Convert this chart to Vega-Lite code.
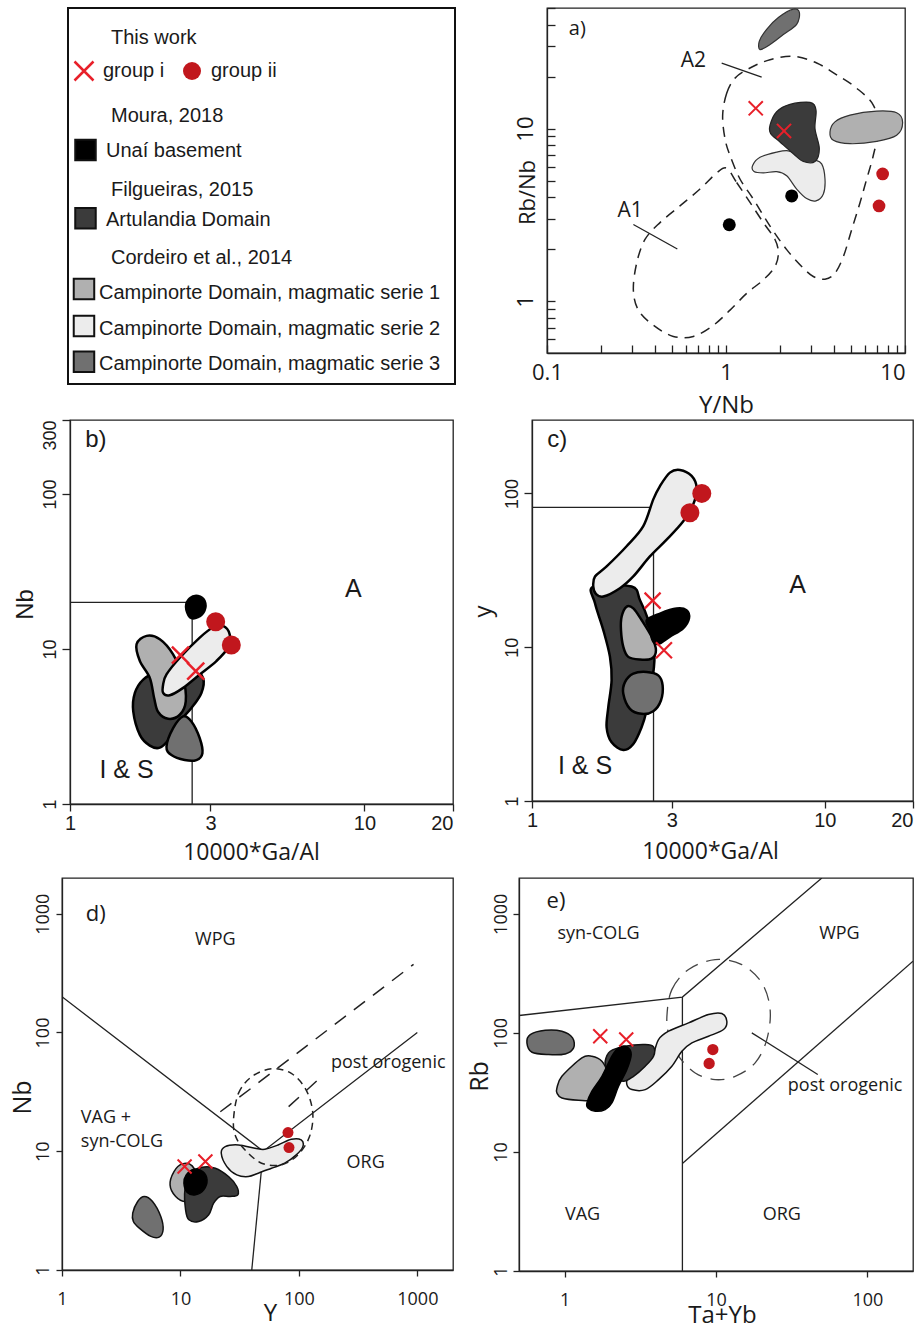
{
 "$schema": "https://vega.github.io/schema/vega-lite/v6.json",
 "background": "white",
 "padding": {"top": 6, "left": 0, "right": 0, "bottom": 0},
 "spacing": 0,
 "config": {
  "view": {"stroke": "#222222", "strokeWidth": 1.3},
  "axis": {"grid": false, "domainColor": "#222222", "domainWidth": 1.3, "tickColor": "#222222", "tickWidth": 1.3, "labelColor": "#1a1a1a", "titleColor": "#1a1a1a", "titleFontWeight": "normal", "labelOverlap": false, "labelFlush": false}
 },
 "datasets": {
  "sh": [
   {"p":"a","k":"s3","i":0,"x":1.549,"y":28.7},{"p":"a","k":"s3","i":1,"x":1.535,"y":32.1},{"p":"a","k":"s3","i":2,"x":1.687,"y":37.6},{"p":"a","k":"s3","i":3,"x":1.961,"y":44.0},{"p":"a","k":"s3","i":4,"x":2.378,"y":49.2},{"p":"a","k":"s3","i":5,"x":2.569,"y":47.1},{"p":"a","k":"s3","i":6,"x":2.482,"y":40.2},{"p":"a","k":"s3","i":7,"x":2.090,"y":35.1},{"p":"a","k":"s3","i":8,"x":1.762,"y":30.7},
   {"p":"a","k":"ar","i":0,"x":1.762,"y":10.46},{"p":"a","k":"ar","i":1,"x":1.919,"y":12.52},{"p":"a","k":"ar","i":2,"x":2.278,"y":13.82},{"p":"a","k":"ar","i":3,"x":2.946,"y":14.19},{"p":"a","k":"ar","i":4,"x":3.183,"y":12.80},{"p":"a","k":"ar","i":5,"x":3.142,"y":10.0},{"p":"a","k":"ar","i":6,"x":3.322,"y":7.64},{"p":"a","k":"ar","i":7,"x":3.142,"y":6.44},{"p":"a","k":"ar","i":8,"x":2.704,"y":6.44},{"p":"a","k":"ar","i":9,"x":2.378,"y":7.14},{"p":"a","k":"ar","i":10,"x":2.003,"y":8.36},{"p":"a","k":"ar","i":11,"x":1.777,"y":9.35},
   {"p":"a","k":"s1","i":0,"x":3.81,"y":9.56},{"p":"a","k":"s1","i":1,"x":4.06,"y":10.94},{"p":"a","k":"s1","i":2,"x":4.93,"y":11.97},{"p":"a","k":"s1","i":3,"x":6.95,"y":12.63},{"p":"a","k":"s1","i":4,"x":8.98,"y":12.35},{"p":"a","k":"s1","i":5,"x":9.70,"y":10.84},{"p":"a","k":"s1","i":6,"x":8.98,"y":9.14},{"p":"a","k":"s1","i":7,"x":6.95,"y":8.43},{"p":"a","k":"s1","i":8,"x":4.93,"y":8.17},{"p":"a","k":"s1","i":9,"x":3.98,"y":8.55},
   {"p":"a","k":"s2","i":0,"x":1.409,"y":6.11},{"p":"a","k":"s2","i":1,"x":1.549,"y":6.82},{"p":"a","k":"s2","i":2,"x":1.919,"y":7.30},{"p":"a","k":"s2","i":3,"x":2.229,"y":7.43},{"p":"a","k":"s2","i":4,"x":2.588,"y":6.98},{"p":"a","k":"s2","i":5,"x":3.074,"y":6.62},{"p":"a","k":"s2","i":6,"x":3.423,"y":6.24},{"p":"a","k":"s2","i":7,"x":3.573,"y":5.10},{"p":"a","k":"s2","i":8,"x":3.499,"y":4.17},{"p":"a","k":"s2","i":9,"x":3.183,"y":3.81},{"p":"a","k":"s2","i":10,"x":2.823,"y":3.93},{"p":"a","k":"s2","i":11,"x":2.482,"y":4.46},{"p":"a","k":"s2","i":12,"x":2.183,"y":5.33},{"p":"a","k":"s2","i":13,"x":1.919,"y":5.63},{"p":"a","k":"s2","i":14,"x":1.617,"y":5.53},{"p":"a","k":"s2","i":15,"x":1.434,"y":5.63},
   {"p":"a","k":"A2","i":0,"x":0.958,"y":11.97},{"p":"a","k":"A2","i":1,"x":1.009,"y":16.02},{"p":"a","k":"A2","i":2,"x":1.123,"y":19.61},{"p":"a","k":"A2","i":3,"x":1.362,"y":22.44},{"p":"a","k":"A2","i":4,"x":1.762,"y":25.09},{"p":"a","k":"A2","i":5,"x":2.378,"y":26.24},{"p":"a","k":"A2","i":6,"x":3.211,"y":23.99},{"p":"a","k":"A2","i":7,"x":4.152,"y":20.5},{"p":"a","k":"A2","i":8,"x":5.37,"y":17.14},{"p":"a","k":"A2","i":9,"x":6.65,"y":13.68},{"p":"a","k":"A2","i":10,"x":7.10,"y":10.0},{"p":"a","k":"A2","i":11,"x":6.65,"y":6.98},{"p":"a","k":"A2","i":12,"x":6.11,"y":5.10},{"p":"a","k":"A2","i":13,"x":5.61,"y":3.73},{"p":"a","k":"A2","i":14,"x":5.04,"y":2.60},{"p":"a","k":"A2","i":15,"x":4.53,"y":1.816},{"p":"a","k":"A2","i":16,"x":4.06,"y":1.451},{"p":"a","k":"A2","i":17,"x":3.573,"y":1.339},{"p":"a","k":"A2","i":18,"x":3.074,"y":1.388},{"p":"a","k":"A2","i":19,"x":2.647,"y":1.588},{"p":"a","k":"A2","i":20,"x":2.183,"y":1.987},{"p":"a","k":"A2","i":21,"x":1.762,"y":2.72},{"p":"a","k":"A2","i":22,"x":1.421,"y":3.90},{"p":"a","k":"A2","i":23,"x":1.197,"y":5.10},{"p":"a","k":"A2","i":24,"x":1.053,"y":6.98},{"p":"a","k":"A2","i":25,"x":0.987,"y":8.74},
   {"p":"a","k":"A1","i":0,"x":1.009,"y":5.89},{"p":"a","k":"A1","i":1,"x":1.147,"y":4.87},{"p":"a","k":"A1","i":2,"x":1.362,"y":3.73},{"p":"a","k":"A1","i":3,"x":1.617,"y":2.85},{"p":"a","k":"A1","i":4,"x":1.878,"y":2.275},{"p":"a","k":"A1","i":5,"x":1.961,"y":1.900},{"p":"a","k":"A1","i":6,"x":1.878,"y":1.588},{"p":"a","k":"A1","i":7,"x":1.617,"y":1.327},{"p":"a","k":"A1","i":8,"x":1.305,"y":1.109},{"p":"a","k":"A1","i":9,"x":1.053,"y":0.886},{"p":"a","k":"A1","i":10,"x":0.850,"y":0.724},{"p":"a","k":"A1","i":11,"x":0.657,"y":0.624},{"p":"a","k":"A1","i":12,"x":0.508,"y":0.624},{"p":"a","k":"A1","i":13,"x":0.393,"y":0.724},{"p":"a","k":"A1","i":14,"x":0.324,"y":0.886},{"p":"a","k":"A1","i":15,"x":0.3037,"y":1.160},{"p":"a","k":"A1","i":16,"x":0.317,"y":1.661},{"p":"a","k":"A1","i":17,"x":0.3527,"y":2.275},{"p":"a","k":"A1","i":18,"x":0.4279,"y":2.85},{"p":"a","k":"A1","i":19,"x":0.553,"y":3.56},{"p":"a","k":"A1","i":20,"x":0.716,"y":4.46},{"p":"a","k":"A1","i":21,"x":0.887,"y":5.53},

   {"p":"b","k":"ar","i":0,"x":1.640,"y":3.958},{"p":"b","k":"ar","i":1,"x":1.661,"y":5.204},{"p":"b","k":"ar","i":2,"x":1.773,"y":6.35},{"p":"b","k":"ar","i":3,"x":1.967,"y":7.02},{"p":"b","k":"ar","i":4,"x":2.299,"y":7.20},{"p":"b","k":"ar","i":5,"x":2.619,"y":7.38},{"p":"b","k":"ar","i":6,"x":2.831,"y":6.51},{"p":"b","k":"ar","i":7,"x":2.795,"y":5.204},{"p":"b","k":"ar","i":8,"x":2.585,"y":4.16},{"p":"b","k":"ar","i":9,"x":2.360,"y":3.408},{"p":"b","k":"ar","i":10,"x":2.183,"y":2.656},{"p":"b","k":"ar","i":11,"x":2.019,"y":2.310},{"p":"b","k":"ar","i":12,"x":1.867,"y":2.380},{"p":"b","k":"ar","i":13,"x":1.727,"y":2.792},
   {"p":"b","k":"s3","i":0,"x":2.127,"y":2.344},{"p":"b","k":"s3","i":1,"x":2.240,"y":3.084},{"p":"b","k":"s3","i":2,"x":2.423,"y":3.672},{"p":"b","k":"s3","i":3,"x":2.585,"y":3.408},{"p":"b","k":"s3","i":4,"x":2.759,"y":2.656},{"p":"b","k":"s3","i":5,"x":2.817,"y":2.123},{"p":"b","k":"s3","i":6,"x":2.688,"y":1.921},{"p":"b","k":"s3","i":7,"x":2.454,"y":1.921},{"p":"b","k":"s3","i":8,"x":2.211,"y":2.070},
   {"p":"b","k":"s1","i":0,"x":1.683,"y":10.72},{"p":"b","k":"s1","i":1,"x":1.820,"y":12.15},{"p":"b","k":"s1","i":2,"x":2.019,"y":11.56},{"p":"b","k":"s1","i":3,"x":2.240,"y":9.23},{"p":"b","k":"s1","i":4,"x":2.423,"y":6.51},{"p":"b","k":"s1","i":5,"x":2.473,"y":4.597},{"p":"b","k":"s1","i":6,"x":2.360,"y":3.765},{"p":"b","k":"s1","i":7,"x":2.154,"y":3.547},{"p":"b","k":"s1","i":8,"x":1.993,"y":3.918},{"p":"b","k":"s1","i":9,"x":1.931,"y":4.83},{"p":"b","k":"s1","i":10,"x":1.867,"y":6.51},{"p":"b","k":"s1","i":11,"x":1.727,"y":8.36},
   {"p":"b","k":"s2","i":0,"x":2.072,"y":5.896},{"p":"b","k":"s2","i":1,"x":2.127,"y":6.85},{"p":"b","k":"s2","i":2,"x":2.360,"y":8.78},{"p":"b","k":"s2","i":3,"x":2.759,"y":11.85},{"p":"b","k":"s2","i":4,"x":3.061,"y":13.76},{"p":"b","k":"s2","i":5,"x":3.310,"y":14.11},{"p":"b","k":"s2","i":6,"x":3.486,"y":12.45},{"p":"b","k":"s2","i":7,"x":3.441,"y":10.20},{"p":"b","k":"s2","i":8,"x":3.142,"y":8.36},{"p":"b","k":"s2","i":9,"x":2.759,"y":6.85},{"p":"b","k":"s2","i":10,"x":2.423,"y":5.61},{"p":"b","k":"s2","i":11,"x":2.183,"y":5.027},{"p":"b","k":"s2","i":12,"x":2.072,"y":5.204},
   {"p":"b","k":"ub","i":0,"x":2.473,"y":18.74},{"p":"b","k":"ub","i":1,"x":2.552,"y":21.33},{"p":"b","k":"ub","i":2,"x":2.723,"y":22.09},{"p":"b","k":"ub","i":3,"x":2.869,"y":20.5},{"p":"b","k":"ub","i":4,"x":2.869,"y":17.65},{"p":"b","k":"ub","i":5,"x":2.723,"y":15.98},{"p":"b","k":"ub","i":6,"x":2.552,"y":15.98},

   {"p":"c","k":"ar","i":0,"x":1.619,"y":24.8},{"p":"c","k":"ar","i":1,"x":1.641,"y":19.29},{"p":"c","k":"ar","i":2,"x":1.752,"y":12.92},{"p":"c","k":"ar","i":3,"x":1.846,"y":8.65},{"p":"c","k":"ar","i":4,"x":1.870,"y":6.085},{"p":"c","k":"ar","i":5,"x":1.822,"y":4.074},{"p":"c","k":"ar","i":6,"x":1.798,"y":3.015},{"p":"c","k":"ar","i":7,"x":1.870,"y":2.406},{"p":"c","k":"ar","i":8,"x":2.050,"y":2.144},{"p":"c","k":"ar","i":9,"x":2.218,"y":2.346},{"p":"c","k":"ar","i":10,"x":2.367,"y":3.015},{"p":"c","k":"ar","i":11,"x":2.462,"y":3.874},{"p":"c","k":"ar","i":12,"x":2.527,"y":5.236},{"p":"c","k":"ar","i":13,"x":2.609,"y":7.44},{"p":"c","k":"ar","i":14,"x":2.609,"y":10.56},{"p":"c","k":"ar","i":15,"x":2.495,"y":15.02},{"p":"c","k":"ar","i":16,"x":2.336,"y":20.28},{"p":"c","k":"ar","i":17,"x":2.189,"y":24.8},
   {"p":"c","k":"s2","i":0,"x":1.619,"y":24.8},{"p":"c","k":"s2","i":1,"x":1.641,"y":28.83},{"p":"c","k":"s2","i":2,"x":1.798,"y":33.5},{"p":"c","k":"s2","i":3,"x":2.104,"y":45.3},{"p":"c","k":"s2","i":4,"x":2.399,"y":61.2},{"p":"c","k":"s2","i":5,"x":2.595,"y":91.4},{"p":"c","k":"s2","i":6,"x":2.735,"y":111.6},{"p":"c","k":"s2","i":7,"x":2.958,"y":136.5},{"p":"c","k":"s2","i":8,"x":3.20,"y":142.1},{"p":"c","k":"s2","i":9,"x":3.508,"y":129.8},{"p":"c","k":"s2","i":10,"x":3.648,"y":108.9},{"p":"c","k":"s2","i":11,"x":3.553,"y":84.8},{"p":"c","k":"s2","i":12,"x":3.285,"y":65.9},{"p":"c","k":"s2","i":13,"x":2.882,"y":50.0},{"p":"c","k":"s2","i":14,"x":2.527,"y":38.9},{"p":"c","k":"s2","i":15,"x":2.218,"y":28.83},{"p":"c","k":"s2","i":16,"x":1.996,"y":24.17},{"p":"c","k":"s2","i":17,"x":1.752,"y":21.33},{"p":"c","k":"s2","i":18,"x":1.653,"y":22.2},
   {"p":"c","k":"s1","i":0,"x":2.023,"y":15.79},{"p":"c","k":"s1","i":1,"x":2.104,"y":18.35},{"p":"c","k":"s1","i":2,"x":2.218,"y":17.89},{"p":"c","k":"s1","i":3,"x":2.367,"y":15.02},{"p":"c","k":"s1","i":4,"x":2.562,"y":11.68},{"p":"c","k":"s1","i":5,"x":2.650,"y":9.56},{"p":"c","k":"s1","i":6,"x":2.562,"y":8.43},{"p":"c","k":"s1","i":7,"x":2.336,"y":8.31},{"p":"c","k":"s1","i":8,"x":2.132,"y":8.65},{"p":"c","k":"s1","i":9,"x":2.050,"y":10.05},{"p":"c","k":"s1","i":10,"x":2.013,"y":12.92},
   {"p":"c","k":"ub","i":0,"x":2.462,"y":15.02},{"p":"c","k":"ub","i":1,"x":2.735,"y":16.6},{"p":"c","k":"ub","i":2,"x":3.117,"y":17.89},{"p":"c","k":"ub","i":3,"x":3.372,"y":17.45},{"p":"c","k":"ub","i":4,"x":3.443,"y":15.40},{"p":"c","k":"ub","i":5,"x":3.285,"y":13.24},{"p":"c","k":"ub","i":6,"x":2.958,"y":11.68},{"p":"c","k":"ub","i":7,"x":2.699,"y":10.46},{"p":"c","k":"ub","i":8,"x":2.581,"y":11.0},{"p":"c","k":"ub","i":9,"x":2.527,"y":12.92},
   {"p":"c","k":"s3","i":0,"x":2.050,"y":4.98},{"p":"c","k":"s3","i":1,"x":2.077,"y":5.93},{"p":"c","k":"s3","i":2,"x":2.218,"y":6.73},{"p":"c","k":"s3","i":3,"x":2.462,"y":6.90},{"p":"c","k":"s3","i":4,"x":2.699,"y":6.56},{"p":"c","k":"s3","i":5,"x":2.793,"y":5.645},{"p":"c","k":"s3","i":6,"x":2.756,"y":4.504},{"p":"c","k":"s3","i":7,"x":2.595,"y":3.836},{"p":"c","k":"s3","i":8,"x":2.367,"y":3.686},{"p":"c","k":"s3","i":9,"x":2.160,"y":3.973},

   {"p":"d","k":"s3","i":0,"x":3.954,"y":3.013},{"p":"d","k":"s3","i":1,"x":4.353,"y":3.777},{"p":"d","k":"s3","i":2,"x":4.950,"y":4.159},{"p":"d","k":"s3","i":3,"x":5.811,"y":3.777},{"p":"d","k":"s3","i":4,"x":6.823,"y":2.825},{"p":"d","k":"s3","i":5,"x":7.138,"y":2.183},{"p":"d","k":"s3","i":6,"x":6.608,"y":1.894},{"p":"d","k":"s3","i":7,"x":5.627,"y":1.919},{"p":"d","k":"s3","i":8,"x":4.495,"y":2.254},{"p":"d","k":"s3","i":9,"x":4.005,"y":2.564},
   {"p":"d","k":"s1","i":0,"x":8.17,"y":5.213},{"p":"d","k":"s1","i":1,"x":8.82,"y":6.75},{"p":"d","k":"s1","i":2,"x":10.36,"y":7.83},{"p":"d","k":"s1","i":3,"x":12.56,"y":7.53},{"p":"d","k":"s1","i":4,"x":13.83,"y":5.742},{"p":"d","k":"s1","i":5,"x":13.39,"y":4.159},{"p":"d","k":"s1","i":6,"x":11.05,"y":3.777},{"p":"d","k":"s1","i":7,"x":9.11,"y":4.159},
   {"p":"d","k":"ar","i":0,"x":10.91,"y":4.732},{"p":"d","k":"ar","i":1,"x":12.16,"y":6.535},{"p":"d","k":"ar","i":2,"x":15.23,"y":7.337},{"p":"d","k":"ar","i":3,"x":19.7,"y":7.197},{"p":"d","k":"ar","i":4,"x":25.46,"y":6.125},{"p":"d","k":"ar","i":5,"x":29.9,"y":5.048},{"p":"d","k":"ar","i":6,"x":30.48,"y":4.296},{"p":"d","k":"ar","i":7,"x":26.29,"y":4.159},{"p":"d","k":"ar","i":8,"x":21.68,"y":4.159},{"p":"d","k":"ar","i":9,"x":19.07,"y":3.656},{"p":"d","k":"ar","i":10,"x":17.32,"y":2.917},{"p":"d","k":"ar","i":11,"x":14.28,"y":2.564},{"p":"d","k":"ar","i":12,"x":11.78,"y":2.649},{"p":"d","k":"ar","i":13,"x":11.05,"y":3.214},
   {"p":"d","k":"ub","i":0,"x":10.70,"y":5.383},{"p":"d","k":"ub","i":1,"x":11.19,"y":6.326},{"p":"d","k":"ub","i":2,"x":12.97,"y":7.06},{"p":"d","k":"ub","i":3,"x":15.43,"y":6.75},{"p":"d","k":"ub","i":4,"x":16.77,"y":5.742},{"p":"d","k":"ub","i":5,"x":15.73,"y":4.732},{"p":"d","k":"ub","i":6,"x":13.39,"y":4.296},{"p":"d","k":"ub","i":7,"x":11.41,"y":4.495},
   {"p":"d","k":"s2","i":0,"x":22.11,"y":9.62},{"p":"d","k":"s2","i":1,"x":23.88,"y":10.94},{"p":"d","k":"s2","i":2,"x":30.87,"y":11.30},{"p":"d","k":"s2","i":3,"x":42.56,"y":10.60},{"p":"d","k":"s2","i":4,"x":51.6,"y":10.39},{"p":"d","k":"s2","i":5,"x":66.7,"y":11.30},{"p":"d","k":"s2","i":6,"x":86.3,"y":12.61},{"p":"d","k":"s2","i":7,"x":104.6,"y":12.45},{"p":"d","k":"s2","i":8,"x":108.0,"y":10.94},{"p":"d","k":"s2","i":9,"x":95.0,"y":9.32},{"p":"d","k":"s2","i":10,"x":75.9,"y":7.93},{"p":"d","k":"s2","i":11,"x":58.7,"y":7.197},{"p":"d","k":"s2","i":12,"x":45.4,"y":6.535},{"p":"d","k":"s2","i":13,"x":37.4,"y":6.125},{"p":"d","k":"s2","i":14,"x":29.9,"y":6.326},{"p":"d","k":"s2","i":15,"x":24.65,"y":7.43},
   {"p":"d","k":"po","i":0,"x":28.04,"y":18.34},{"p":"d","k":"po","i":1,"x":30.87,"y":30.72},{"p":"d","k":"po","i":2,"x":39.9,"y":42.42},{"p":"d","k":"po","i":3,"x":58.7,"y":49.5},{"p":"d","k":"po","i":4,"x":86.3,"y":45.25},{"p":"d","k":"po","i":5,"x":115.2,"y":32.76},{"p":"d","k":"po","i":6,"x":131,"y":20.86},{"p":"d","k":"po","i":7,"x":122.9,"y":13.28},{"p":"d","k":"po","i":8,"x":98.1,"y":9.32},{"p":"d","k":"po","i":9,"x":71.1,"y":7.68},{"p":"d","k":"po","i":10,"x":48.4,"y":7.93},{"p":"d","k":"po","i":11,"x":35.1,"y":10.26},{"p":"d","k":"po","i":12,"x":29.3,"y":13.28},

   {"p":"e","k":"s3","i":0,"x":0.564,"y":82.4},{"p":"e","k":"s3","i":1,"x":0.593,"y":96.8},{"p":"e","k":"s3","i":2,"x":0.745,"y":105.3},{"p":"e","k":"s3","i":3,"x":0.960,"y":103.3},{"p":"e","k":"s3","i":4,"x":1.129,"y":90.8},{"p":"e","k":"s3","i":5,"x":1.147,"y":74.8},{"p":"e","k":"s3","i":6,"x":1.010,"y":66.6},{"p":"e","k":"s3","i":7,"x":0.784,"y":65.8},{"p":"e","k":"s3","i":8,"x":0.609,"y":68.8},
   {"p":"e","k":"s2","i":0,"x":2.579,"y":36.8},{"p":"e","k":"s2","i":1,"x":2.645,"y":43.2},{"p":"e","k":"s2","i":2,"x":3.079,"y":52.5},{"p":"e","k":"s2","i":3,"x":3.771,"y":63.7},{"p":"e","k":"s2","i":4,"x":4.174,"y":87.9},{"p":"e","k":"s2","i":5,"x":4.861,"y":103.3},{"p":"e","k":"s2","i":6,"x":6.59,"y":121.3},{"p":"e","k":"s2","i":7,"x":8.92,"y":142.6},{"p":"e","k":"s2","i":8,"x":10.93,"y":145.4},{"p":"e","k":"s2","i":9,"x":11.79,"y":125.3},{"p":"e","k":"s2","i":10,"x":11.21,"y":106.7},{"p":"e","k":"s2","i":11,"x":8.92,"y":93.7},{"p":"e","k":"s2","i":12,"x":6.93,"y":82.4},{"p":"e","k":"s2","i":13,"x":5.95,"y":70.1},{"p":"e","k":"s2","i":14,"x":5.11,"y":52.5},{"p":"e","k":"s2","i":15,"x":4.174,"y":40.5},{"p":"e","k":"s2","i":16,"x":3.408,"y":33.4},{"p":"e","k":"s2","i":17,"x":2.783,"y":33.4},
   {"p":"e","k":"s1","i":0,"x":0.890,"y":34.5},{"p":"e","k":"s1","i":1,"x":0.960,"y":43.2},{"p":"e","k":"s1","i":2,"x":1.301,"y":61.7},{"p":"e","k":"s1","i":3,"x":1.515,"y":63.7},{"p":"e","k":"s1","i":4,"x":1.764,"y":57.8},{"p":"e","k":"s1","i":5,"x":1.903,"y":46.1},{"p":"e","k":"s1","i":6,"x":1.809,"y":34.5},{"p":"e","k":"s1","i":7,"x":1.594,"y":27.5},{"p":"e","k":"s1","i":8,"x":1.237,"y":27.2},{"p":"e","k":"s1","i":9,"x":0.960,"y":28.4},{"p":"e","k":"s1","i":10,"x":0.890,"y":31.3},
   {"p":"e","k":"ar","i":0,"x":1.855,"y":57.8},{"p":"e","k":"ar","i":1,"x":2.002,"y":70.1},{"p":"e","k":"ar","i":2,"x":2.514,"y":77.3},{"p":"e","k":"ar","i":3,"x":3.408,"y":79.8},{"p":"e","k":"ar","i":4,"x":3.868,"y":76.3},{"p":"e","k":"ar","i":5,"x":3.868,"y":63.7},{"p":"e","k":"ar","i":6,"x":3.408,"y":52.5},{"p":"e","k":"ar","i":7,"x":2.854,"y":43.2},{"p":"e","k":"ar","i":8,"x":2.451,"y":39.2},{"p":"e","k":"ar","i":9,"x":2.053,"y":43.2},{"p":"e","k":"ar","i":10,"x":1.903,"y":49.2},
   {"p":"e","k":"ub","i":0,"x":1.404,"y":25.8},{"p":"e","k":"ub","i":1,"x":1.515,"y":32.4},{"p":"e","k":"ub","i":2,"x":1.764,"y":43.2},{"p":"e","k":"ub","i":3,"x":2.053,"y":63.7},{"p":"e","k":"ub","i":4,"x":2.272,"y":74.8},{"p":"e","k":"ub","i":5,"x":2.579,"y":76.3},{"p":"e","k":"ub","i":6,"x":2.754,"y":65.8},{"p":"e","k":"ub","i":7,"x":2.579,"y":49.2},{"p":"e","k":"ub","i":8,"x":2.272,"y":35.6},{"p":"e","k":"ub","i":9,"x":2.053,"y":25.8},{"p":"e","k":"ub","i":10,"x":1.855,"y":22.7},{"p":"e","k":"ub","i":11,"x":1.594,"y":21.97},{"p":"e","k":"ub","i":12,"x":1.426,"y":23.4},
   {"p":"e","k":"po","i":0,"x":4.74,"y":138},{"p":"e","k":"po","i":1,"x":5.11,"y":231},{"p":"e","k":"po","i":2,"x":6.59,"y":341},{"p":"e","k":"po","i":3,"x":9.87,"y":413},{"p":"e","k":"po","i":4,"x":14.81,"y":375},{"p":"e","k":"po","i":5,"x":20.07,"y":263},{"p":"e","k":"po","i":6,"x":22.78,"y":157},{"p":"e","k":"po","i":7,"x":21.65,"y":87.9},{"p":"e","k":"po","i":8,"x":18.14,"y":56},{"p":"e","k":"po","i":9,"x":13.38,"y":43.2},{"p":"e","k":"po","i":10,"x":9.87,"y":40.5},{"p":"e","k":"po","i":11,"x":7.29,"y":46.1},{"p":"e","k":"po","i":12,"x":5.66,"y":63.7},{"p":"e","k":"po","i":13,"x":4.91,"y":93.7}
  ],
  "ln": [
   {"p":"a","t":"lead","id":"a1","i":0,"x":0.946,"y":23.99},{"p":"a","t":"lead","id":"a1","i":1,"x":1.582,"y":19.86},
   {"p":"a","t":"lead","id":"a2","i":0,"x":0.3037,"y":2.78},{"p":"a","t":"lead","id":"a2","i":1,"x":0.5348,"y":2.005},
   {"p":"b","t":"bnd","id":"b1","i":0,"x":1,"y":20},{"p":"b","t":"bnd","id":"b1","i":1,"x":2.6,"y":20},{"p":"b","t":"bnd","id":"b1","i":2,"x":2.6,"y":1},
   {"p":"c","t":"bnd","id":"c1","i":0,"x":1,"y":81},{"p":"c","t":"bnd","id":"c1","i":1,"x":2.6,"y":81},{"p":"c","t":"bnd","id":"c1","i":2,"x":2.6,"y":1},
   {"p":"d","t":"bnd","id":"d1","i":0,"x":1,"y":200},{"p":"d","t":"bnd","id":"d1","i":1,"x":50,"y":10},{"p":"d","t":"bnd","id":"d1","i":2,"x":1000,"y":100},
   {"p":"d","t":"bnd","id":"d2","i":0,"x":50,"y":10},{"p":"d","t":"bnd","id":"d2","i":1,"x":40,"y":1},
   {"p":"d","t":"po","id":"d3","i":0,"x":21.7,"y":21.5},{"p":"d","t":"po","id":"d3","i":1,"x":929,"y":375},
   {"p":"d","t":"lead","id":"d4","i":0,"x":81.9,"y":23.74},{"p":"d","t":"lead","id":"d4","i":1,"x":144.2,"y":39.8},
   {"p":"e","t":"bnd","id":"e1","i":0,"x":0.5,"y":140},{"p":"e","t":"bnd","id":"e1","i":1,"x":6,"y":200},{"p":"e","t":"bnd","id":"e1","i":2,"x":50,"y":2000},
   {"p":"e","t":"bnd","id":"e2","i":0,"x":6,"y":200},{"p":"e","t":"bnd","id":"e2","i":1,"x":6,"y":1},
   {"p":"e","t":"bnd","id":"e3","i":0,"x":6,"y":8},{"p":"e","t":"bnd","id":"e3","i":1,"x":200,"y":400},
   {"p":"e","t":"lead","id":"e4","i":0,"x":17.24,"y":100},{"p":"e","t":"lead","id":"e4","i":1,"x":47,"y":44.7}
  ],
  "pt": [
   {"p":"a","g":"i","x":1.466,"y":13.1},{"p":"a","g":"i","x":2.109,"y":9.69},{"p":"a","g":"ii","x":7.50,"y":5.46},{"p":"a","g":"ii","x":7.16,"y":3.56},{"p":"a","g":"ub","x":2.328,"y":4.07},{"p":"a","g":"ub","x":1.043,"y":2.77},
   {"p":"b","g":"i","x":2.372,"y":9.14},{"p":"b","g":"i","x":2.674,"y":7.20},{"p":"b","g":"ii","x":3.125,"y":14.97},{"p":"b","g":"ii","x":3.532,"y":10.62},
   {"p":"c","g":"i","x":2.581,"y":20.08},{"p":"c","g":"i","x":2.822,"y":9.56},{"p":"c","g":"ii","x":3.80,"y":100},{"p":"c","g":"ii","x":3.461,"y":74.75},
   {"p":"d","g":"i","x":10.84,"y":7.43},{"p":"d","g":"i","x":16.24,"y":8.19},{"p":"d","g":"ii","x":80.9,"y":14.35},{"p":"d","g":"ii","x":82.5,"y":10.74},
   {"p":"e","g":"i","x":1.720,"y":93.7},{"p":"e","g":"i","x":2.553,"y":87.9},{"p":"e","g":"ii","x":9.53,"y":72.4},{"p":"e","g":"ii","x":9.01,"y":55.3}
  ],
  "tx": [
   {"p":"a","s":"pl","t":"a)","x":0.1477,"y":37.9},{"p":"a","s":"rg","t":"A2","x":0.657,"y":24.5},{"p":"a","s":"rg","t":"A1","x":0.291,"y":3.33},
   {"p":"b","s":"pl","t":"b)","x":1.225,"y":222},{"p":"b","s":"rg","t":"A","x":9.18,"y":24.4},{"p":"b","s":"rg","t":"I & S","x":1.556,"y":1.654},
   {"p":"c","s":"pl","t":"c)","x":1.22,"y":223},{"p":"c","s":"rg","t":"A","x":8.07,"y":25.4},{"p":"c","s":"rg","t":"I & S","x":1.517,"y":1.693},
   {"p":"d","s":"pl","t":"d)","x":1.93,"y":990},{"p":"d","s":"rg","t":"WPG","x":19.7,"y":597},{"p":"d","s":"rl","t":"VAG +","x":1.442,"y":19.2},{"p":"d","s":"rl","t":"syn-COLG","x":1.442,"y":12.0},{"p":"d","s":"rl","t":"post orogenic","x":186.5,"y":54.9},{"p":"d","s":"rg","t":"ORG","x":366,"y":8.03},
   {"p":"e","s":"pl","t":"e)","x":0.877,"y":1277},{"p":"e","s":"rg","t":"syn-COLG","x":1.677,"y":683},{"p":"e","s":"rg","t":"WPG","x":65.3,"y":683},{"p":"e","s":"rg","t":"post orogenic","x":71.2,"y":35.6},{"p":"e","s":"rg","t":"VAG","x":1.315,"y":2.974},{"p":"e","s":"rg","t":"ORG","x":27.2,"y":2.974}
  ],
  "lgt": [
   {"t":"This work","c":1.111,"r":0},
   {"t":"group i","c":0.904,"r":0.914},
   {"t":"group ii","c":3.695,"r":0.914},
   {"t":"Moura, 2018","c":1.111,"r":2.16},
   {"t":"Unaí basement","c":0.982,"r":3.13},
   {"t":"Filgueiras, 2015","c":1.111,"r":4.21},
   {"t":"Artulandia Domain","c":0.982,"r":5.04},
   {"t":"Cordeiro et al., 2014","c":1.111,"r":6.09},
   {"t":"Campinorte Domain, magmatic serie 1","c":0.80,"r":7.06},
   {"t":"Campinorte Domain, magmatic serie 2","c":0.80,"r":8.06},
   {"t":"Campinorte Domain, magmatic serie 3","c":0.80,"r":9.03}
  ],
  "lgs": [
   {"s":"i","c":0.413,"r":0.914},
   {"s":"ii","c":3.204,"r":0.914},
   {"s":"ub","c":0.452,"r":3.10},
   {"s":"ar","c":0.452,"r":4.99},
   {"s":"s1","c":0.413,"r":6.95},
   {"s":"s2","c":0.413,"r":7.98},
   {"s":"s3","c":0.413,"r":8.97}
  ]
 },
 "vconcat": [
  {
   "spacing": 0,
   "bounds": "flush",
   "hconcat": [
    {"data": {"values": [{}]}, "mark": {"type": "point", "opacity": 0}, "width": 68, "height": 410, "view": {"stroke": null}},
    {
     "width": 387, "height": 376,
     "view": {"stroke": "#111111", "strokeWidth": 2},
     "encoding": {
      "x": {"field": "c", "type": "quantitative", "scale": {"domain": [0, 10], "nice": false, "zero": false}, "axis": null},
      "y": {"field": "r", "type": "quantitative", "scale": {"domain": [-0.831, 9.584], "reverse": true, "nice": false, "zero": false}, "axis": null}
     },
     "layer": [
      {"data": {"name": "lgt"}, "mark": {"type": "text", "align": "left", "baseline": "middle", "font": "Liberation Sans", "fontSize": 20, "color": "#1a1a1a"}, "encoding": {"text": {"field": "t"}}},
      {"data": {"name": "lgs"}, "transform": [{"filter": "datum.s=='i'"}], "mark": {"type": "point", "shape": "M-1,-1L1,1M-1,1L1,-1", "size": 361, "stroke": "#e8202a", "strokeWidth": 2.5, "filled": false, "opacity": 1}},
      {"data": {"name": "lgs"}, "transform": [{"filter": "datum.s=='ii'"}], "mark": {"type": "circle", "size": 324, "color": "#c1171d", "opacity": 1}},
      {"data": {"name": "lgs"}, "transform": [{"filter": "datum.s!='i'&&datum.s!='ii'"}], "mark": {"type": "point", "shape": "square", "filled": true, "stroke": "#111111", "strokeWidth": 2, "opacity": 1, "size": 420},
       "encoding": {"fill": {"field": "s", "type": "nominal", "scale": {"domain": ["ub", "ar", "s1", "s2", "s3"], "range": ["#000000", "#3b3b3b", "#b0b0b0", "#ececec", "#707070"]}, "legend": null}}}
     ]
    },
    {"data": {"values": [{}]}, "mark": {"type": "point", "opacity": 0}, "width": 92, "height": 10, "view": {"stroke": null}},
    {
     "width": 358, "height": 345,
     "encoding": {
      "x": {"field": "x", "type": "quantitative", "scale": {"type": "log", "domain": [0.1, 10], "nice": false},
       "axis": {"title": "Y/Nb", "values": [0.1, 0.2, 0.3, 0.4, 0.5, 0.6, 0.7, 0.8, 0.9, 1, 2, 3, 4, 5, 6, 7, 8, 9, 10], "labelExpr": "datum.value==0.1?'0.1':datum.value==1?'1':datum.value==10?'10':''", "labelAlign": {"condition": {"test": "datum.value >= 9.5", "value": "right"}, "value": "center"}, "tickSize": -8, "labelPadding": 17, "labelFont": "Open Sans", "labelFontSize": 22, "titleFont": "Open Sans", "titleFontSize": 24, "titleX": 179, "titleY": 52, "titleAlign": "center", "titleBaseline": "middle"}},
      "y": {"field": "y", "type": "quantitative", "scale": {"type": "log", "domain": [0.5, 50], "nice": false},
       "axis": {"title": "Rb/Nb", "values": [0.6, 0.7, 0.8, 0.9, 1, 2, 3, 4, 5, 6, 7, 8, 9, 10, 20, 30, 40, 50], "labelExpr": "datum.value==1?'1':datum.value==10?'10':''", "labelAngle": -90, "labelAlign": "center", "labelBaseline": "bottom", "tickSize": -8, "labelPadding": 18, "labelFont": "Open Sans", "labelFontSize": 22, "titleFont": "Open Sans", "titleFontSize": 22, "titleX": -20, "titleY": 184, "titleAngle": -90, "titleAlign": "center", "titleBaseline": "middle"}}
     },
     "layer": [
      {"data": {"name": "sh"}, "transform": [{"filter": "datum.p=='a'&&datum.k=='s3'"}], "mark": {"type": "line", "interpolate": "cardinal-closed", "fill": "#707070", "stroke": "#333333", "strokeWidth": 1.2, "clip": true}, "encoding": {"order": {"field": "i", "type": "quantitative"}}},
      {"data": {"name": "sh"}, "transform": [{"filter": "datum.p=='a'&&(datum.k=='A1'||datum.k=='A2')"}], "mark": {"type": "line", "interpolate": "cardinal-closed", "stroke": "#222222", "strokeWidth": 1.5, "strokeDash": [10, 7], "clip": true}, "encoding": {"order": {"field": "i", "type": "quantitative"}, "detail": {"field": "k"}}},
      {"data": {"name": "ln"}, "transform": [{"filter": "datum.p=='a'"}], "mark": {"type": "line", "stroke": "#222222", "strokeWidth": 1.3, "clip": true}, "encoding": {"order": {"field": "i", "type": "quantitative"}, "detail": {"field": "id"}}},
      {"data": {"name": "sh"}, "transform": [{"filter": "datum.p=='a'&&datum.k=='s2'"}], "mark": {"type": "line", "interpolate": "cardinal-closed", "fill": "#ececec", "stroke": "#333333", "strokeWidth": 1.2, "clip": true}, "encoding": {"order": {"field": "i", "type": "quantitative"}}},
      {"data": {"name": "sh"}, "transform": [{"filter": "datum.p=='a'&&datum.k=='ar'"}], "mark": {"type": "line", "interpolate": "cardinal-closed", "fill": "#3b3b3b", "stroke": "#222222", "strokeWidth": 1.2, "clip": true}, "encoding": {"order": {"field": "i", "type": "quantitative"}}},
      {"data": {"name": "sh"}, "transform": [{"filter": "datum.p=='a'&&datum.k=='s1'"}], "mark": {"type": "line", "interpolate": "cardinal-closed", "fill": "#b0b0b0", "stroke": "#333333", "strokeWidth": 1.2, "clip": true}, "encoding": {"order": {"field": "i", "type": "quantitative"}}},
      {"data": {"name": "pt"}, "transform": [{"filter": "datum.p=='a'&&datum.g=='ub'"}], "mark": {"type": "circle", "size": 169, "color": "#000000", "opacity": 1}},
      {"data": {"name": "pt"}, "transform": [{"filter": "datum.p=='a'&&datum.g=='ii'"}], "mark": {"type": "circle", "size": 161, "color": "#c1171d", "opacity": 1}},
      {"data": {"name": "pt"}, "transform": [{"filter": "datum.p=='a'&&datum.g=='i'"}], "mark": {"type": "point", "shape": "M-1,-1L1,1M-1,1L1,-1", "size": 200, "stroke": "#e8202a", "strokeWidth": 2, "filled": false, "opacity": 1}},
      {"data": {"name": "tx"}, "transform": [{"filter": "datum.p=='a'&&datum.s=='pl'"}], "mark": {"type": "text", "font": "Open Sans", "fontSize": 20, "color": "#1a1a1a"}, "encoding": {"text": {"field": "t"}}},
      {"data": {"name": "tx"}, "transform": [{"filter": "datum.p=='a'&&datum.s=='rg'"}], "mark": {"type": "text", "font": "Open Sans", "fontSize": 21, "color": "#1a1a1a"}, "encoding": {"text": {"field": "t"}}}
     ]
    }
   ]
  },
  {
   "spacing": 0,
   "bounds": "flush",
   "hconcat": [
    {"data": {"values": [{}]}, "mark": {"type": "point", "opacity": 0}, "width": 70, "height": 457, "view": {"stroke": null}},
    {
     "width": 383, "height": 384,
     "encoding": {
      "x": {"field": "x", "type": "quantitative", "scale": {"type": "log", "domain": [1, 20], "nice": false},
       "axis": {"title": "10000*Ga/Al", "values": [1, 3, 10, 20], "format": "d", "labelAlign": {"condition": {"test": "datum.value >= 19", "value": "right"}, "value": "center"}, "tickSize": 7, "labelPadding": 2, "labelFont": "Liberation Sans", "labelFontSize": 20, "titleFont": "Open Sans", "titleFontSize": 23, "titleX": 181, "titleY": 48, "titleAlign": "center", "titleBaseline": "middle"}},
      "y": {"field": "y", "type": "quantitative", "scale": {"type": "log", "domain": [1, 300], "nice": false},
       "axis": {"title": "Nb", "values": [1, 10, 100, 300], "format": "d", "labelAngle": -90, "labelAlign": {"condition": {"test": "datum.value >= 299", "value": "right"}, "value": "center"}, "labelBaseline": "bottom", "tickSize": 8, "labelPadding": 3, "labelFont": "Liberation Sans", "labelFontSize": 18, "titleFont": "Liberation Sans", "titleFontSize": 24, "titleX": -45, "titleY": 184, "titleAngle": -90, "titleAlign": "center", "titleBaseline": "middle"}}
     },
     "layer": [
      {"data": {"name": "ln"}, "transform": [{"filter": "datum.p=='b'"}], "mark": {"type": "line", "stroke": "#222222", "strokeWidth": 1.3, "clip": true}, "encoding": {"order": {"field": "i", "type": "quantitative"}, "detail": {"field": "id"}}},
      {"data": {"name": "sh"}, "transform": [{"filter": "datum.p=='b'&&datum.k=='ar'"}], "mark": {"type": "line", "interpolate": "cardinal-closed", "fill": "#3b3b3b", "stroke": "#000000", "strokeWidth": 2.5, "clip": true}, "encoding": {"order": {"field": "i", "type": "quantitative"}}},
      {"data": {"name": "sh"}, "transform": [{"filter": "datum.p=='b'&&datum.k=='s3'"}], "mark": {"type": "line", "interpolate": "cardinal-closed", "fill": "#707070", "stroke": "#000000", "strokeWidth": 2.5, "clip": true}, "encoding": {"order": {"field": "i", "type": "quantitative"}}},
      {"data": {"name": "sh"}, "transform": [{"filter": "datum.p=='b'&&datum.k=='s1'"}], "mark": {"type": "line", "interpolate": "cardinal-closed", "fill": "#b0b0b0", "stroke": "#000000", "strokeWidth": 2.5, "clip": true}, "encoding": {"order": {"field": "i", "type": "quantitative"}}},
      {"data": {"name": "sh"}, "transform": [{"filter": "datum.p=='b'&&datum.k=='s2'"}], "mark": {"type": "line", "interpolate": "cardinal-closed", "fill": "#ececec", "stroke": "#000000", "strokeWidth": 2.5, "clip": true}, "encoding": {"order": {"field": "i", "type": "quantitative"}}},
      {"data": {"name": "sh"}, "transform": [{"filter": "datum.p=='b'&&datum.k=='ub'"}], "mark": {"type": "line", "interpolate": "cardinal-closed", "fill": "#000000", "stroke": "#000000", "strokeWidth": 2, "clip": true}, "encoding": {"order": {"field": "i", "type": "quantitative"}}},
      {"data": {"name": "pt"}, "transform": [{"filter": "datum.p=='b'&&datum.g=='ii'"}], "mark": {"type": "circle", "size": 361, "color": "#c1171d", "opacity": 1}},
      {"data": {"name": "pt"}, "transform": [{"filter": "datum.p=='b'&&datum.g=='i'"}], "mark": {"type": "point", "shape": "M-1,-1L1,1M-1,1L1,-1", "size": 289, "stroke": "#e8202a", "strokeWidth": 2.5, "filled": false, "opacity": 1}},
      {"data": {"name": "tx"}, "transform": [{"filter": "datum.p=='b'&&datum.s=='pl'"}], "mark": {"type": "text", "font": "Liberation Sans", "fontSize": 24, "color": "#1a1a1a"}, "encoding": {"text": {"field": "t"}}},
      {"data": {"name": "tx"}, "transform": [{"filter": "datum.p=='b'&&datum.s=='rg'"}], "mark": {"type": "text", "font": "Liberation Sans", "fontSize": 25, "color": "#1a1a1a"}, "encoding": {"text": {"field": "t"}}}
     ]
    },
    {"data": {"values": [{}]}, "mark": {"type": "point", "opacity": 0}, "width": 79, "height": 10, "view": {"stroke": null}},
    {
     "width": 381, "height": 381,
     "encoding": {
      "x": {"field": "x", "type": "quantitative", "scale": {"type": "log", "domain": [1, 20], "nice": false},
       "axis": {"title": "10000*Ga/Al", "values": [1, 3, 10, 20], "format": "d", "labelAlign": {"condition": {"test": "datum.value >= 19", "value": "right"}, "value": "center"}, "tickSize": 7, "labelPadding": 2, "labelFont": "Liberation Sans", "labelFontSize": 20, "titleFont": "Open Sans", "titleFontSize": 23, "titleX": 178, "titleY": 50, "titleAlign": "center", "titleBaseline": "middle"}},
      "y": {"field": "y", "type": "quantitative", "scale": {"type": "log", "domain": [1, 300], "nice": false},
       "axis": {"title": "y", "values": [1, 10, 100], "format": "d", "labelAngle": -90, "labelAlign": "center", "labelBaseline": "bottom", "tickSize": 8, "labelPadding": 3, "labelFont": "Liberation Sans", "labelFontSize": 18, "titleFont": "Open Sans", "titleFontSize": 24, "titleX": -49, "titleY": 191, "titleAngle": -90, "titleAlign": "center", "titleBaseline": "middle"}}
     },
     "layer": [
      {"data": {"name": "ln"}, "transform": [{"filter": "datum.p=='c'"}], "mark": {"type": "line", "stroke": "#222222", "strokeWidth": 1.3, "clip": true}, "encoding": {"order": {"field": "i", "type": "quantitative"}, "detail": {"field": "id"}}},
      {"data": {"name": "sh"}, "transform": [{"filter": "datum.p=='c'&&datum.k=='ar'"}], "mark": {"type": "line", "interpolate": "cardinal-closed", "fill": "#3b3b3b", "stroke": "#000000", "strokeWidth": 2.5, "clip": true}, "encoding": {"order": {"field": "i", "type": "quantitative"}}},
      {"data": {"name": "sh"}, "transform": [{"filter": "datum.p=='c'&&datum.k=='s2'"}], "mark": {"type": "line", "interpolate": "cardinal-closed", "fill": "#ececec", "stroke": "#000000", "strokeWidth": 2.5, "clip": true}, "encoding": {"order": {"field": "i", "type": "quantitative"}}},
      {"data": {"name": "sh"}, "transform": [{"filter": "datum.p=='c'&&datum.k=='s1'"}], "mark": {"type": "line", "interpolate": "cardinal-closed", "fill": "#b0b0b0", "stroke": "#000000", "strokeWidth": 2.5, "clip": true}, "encoding": {"order": {"field": "i", "type": "quantitative"}}},
      {"data": {"name": "sh"}, "transform": [{"filter": "datum.p=='c'&&datum.k=='ub'"}], "mark": {"type": "line", "interpolate": "cardinal-closed", "fill": "#000000", "stroke": "#000000", "strokeWidth": 2, "clip": true}, "encoding": {"order": {"field": "i", "type": "quantitative"}}},
      {"data": {"name": "sh"}, "transform": [{"filter": "datum.p=='c'&&datum.k=='s3'"}], "mark": {"type": "line", "interpolate": "cardinal-closed", "fill": "#707070", "stroke": "#000000", "strokeWidth": 2.5, "clip": true}, "encoding": {"order": {"field": "i", "type": "quantitative"}}},
      {"data": {"name": "pt"}, "transform": [{"filter": "datum.p=='c'&&datum.g=='ii'"}], "mark": {"type": "circle", "size": 361, "color": "#c1171d", "opacity": 1}},
      {"data": {"name": "pt"}, "transform": [{"filter": "datum.p=='c'&&datum.g=='i'"}], "mark": {"type": "point", "shape": "M-1,-1L1,1M-1,1L1,-1", "size": 256, "stroke": "#e8202a", "strokeWidth": 2.2, "filled": false, "opacity": 1}},
      {"data": {"name": "tx"}, "transform": [{"filter": "datum.p=='c'&&datum.s=='pl'"}], "mark": {"type": "text", "font": "Liberation Sans", "fontSize": 24, "color": "#1a1a1a"}, "encoding": {"text": {"field": "t"}}},
      {"data": {"name": "tx"}, "transform": [{"filter": "datum.p=='c'&&datum.s=='rg'"}], "mark": {"type": "text", "font": "Liberation Sans", "fontSize": 25, "color": "#1a1a1a"}, "encoding": {"text": {"field": "t"}}}
     ]
    }
   ]
  },
  {
   "spacing": 0,
   "bounds": "flush",
   "hconcat": [
    {"data": {"values": [{}]}, "mark": {"type": "point", "opacity": 0}, "width": 62, "height": 392, "view": {"stroke": null}},
    {
     "width": 391, "height": 392,
     "encoding": {
      "x": {"field": "x", "type": "quantitative", "scale": {"type": "log", "domain": [1, 2000], "nice": false},
       "axis": {"title": "Y", "values": [1, 10, 100, 1000], "format": "d", "tickSize": 6, "labelPadding": 14, "labelFont": "Open Sans", "labelFontSize": 18, "titleFont": "Open Sans", "titleFontSize": 24, "titleX": 208, "titleY": 43, "titleAlign": "center", "titleBaseline": "middle"}},
      "y": {"field": "y", "type": "quantitative", "scale": {"type": "log", "domain": [1, 2000], "nice": false},
       "axis": {"title": "Nb", "values": [1, 10, 100, 1000], "format": "d", "labelAngle": -90, "labelAlign": "center", "labelBaseline": "bottom", "tickSize": 6, "labelPadding": 4, "labelFont": "Open Sans", "labelFontSize": 18, "titleFont": "Open Sans", "titleFontSize": 25, "titleX": -40, "titleY": 219, "titleAngle": -90, "titleAlign": "center", "titleBaseline": "middle"}}
     },
     "layer": [
      {"data": {"name": "ln"}, "transform": [{"filter": "datum.p=='d'&&datum.t=='bnd'"}], "mark": {"type": "line", "stroke": "#222222", "strokeWidth": 1.3, "clip": true}, "encoding": {"order": {"field": "i", "type": "quantitative"}, "detail": {"field": "id"}}},
      {"data": {"name": "sh"}, "transform": [{"filter": "datum.p=='d'&&datum.k=='s3'"}], "mark": {"type": "line", "interpolate": "cardinal-closed", "fill": "#707070", "stroke": "#111111", "strokeWidth": 1.5, "clip": true}, "encoding": {"order": {"field": "i", "type": "quantitative"}}},
      {"data": {"name": "sh"}, "transform": [{"filter": "datum.p=='d'&&datum.k=='s1'"}], "mark": {"type": "line", "interpolate": "cardinal-closed", "fill": "#b0b0b0", "stroke": "#111111", "strokeWidth": 1.5, "clip": true}, "encoding": {"order": {"field": "i", "type": "quantitative"}}},
      {"data": {"name": "sh"}, "transform": [{"filter": "datum.p=='d'&&datum.k=='ar'"}], "mark": {"type": "line", "interpolate": "cardinal-closed", "fill": "#3b3b3b", "stroke": "#111111", "strokeWidth": 1.5, "clip": true}, "encoding": {"order": {"field": "i", "type": "quantitative"}}},
      {"data": {"name": "sh"}, "transform": [{"filter": "datum.p=='d'&&datum.k=='ub'"}], "mark": {"type": "line", "interpolate": "cardinal-closed", "fill": "#000000", "stroke": "#000000", "strokeWidth": 1.5, "clip": true}, "encoding": {"order": {"field": "i", "type": "quantitative"}}},
      {"data": {"name": "sh"}, "transform": [{"filter": "datum.p=='d'&&datum.k=='s2'"}], "mark": {"type": "line", "interpolate": "cardinal-closed", "fill": "#ececec", "stroke": "#111111", "strokeWidth": 1.5, "clip": true}, "encoding": {"order": {"field": "i", "type": "quantitative"}}},
      {"data": {"name": "sh"}, "transform": [{"filter": "datum.p=='d'&&datum.k=='po'"}], "mark": {"type": "line", "interpolate": "cardinal-closed", "stroke": "#222222", "strokeWidth": 1.5, "strokeDash": [7, 5], "clip": true}, "encoding": {"order": {"field": "i", "type": "quantitative"}}},
      {"data": {"name": "ln"}, "transform": [{"filter": "datum.p=='d'&&datum.t!='bnd'"}], "mark": {"type": "line", "stroke": "#222222", "strokeWidth": 1.5, "strokeDash": [14, 10], "clip": true}, "encoding": {"order": {"field": "i", "type": "quantitative"}, "detail": {"field": "id"}}},
      {"data": {"name": "pt"}, "transform": [{"filter": "datum.p=='d'&&datum.g=='ii'"}], "mark": {"type": "circle", "size": 121, "color": "#c1171d", "opacity": 1}},
      {"data": {"name": "pt"}, "transform": [{"filter": "datum.p=='d'&&datum.g=='i'"}], "mark": {"type": "point", "shape": "M-1,-1L1,1M-1,1L1,-1", "size": 196, "stroke": "#e8202a", "strokeWidth": 2, "filled": false, "opacity": 1}},
      {"data": {"name": "tx"}, "transform": [{"filter": "datum.p=='d'&&datum.s=='pl'"}], "mark": {"type": "text", "font": "Open Sans", "fontSize": 22, "color": "#1a1a1a"}, "encoding": {"text": {"field": "t"}}},
      {"data": {"name": "tx"}, "transform": [{"filter": "datum.p=='d'&&datum.s=='rg'"}], "mark": {"type": "text", "font": "Open Sans", "fontSize": 18, "color": "#1a1a1a"}, "encoding": {"text": {"field": "t"}}},
      {"data": {"name": "tx"}, "transform": [{"filter": "datum.p=='d'&&datum.s=='rl'"}], "mark": {"type": "text", "align": "left", "font": "Open Sans", "fontSize": 18, "color": "#1a1a1a"}, "encoding": {"text": {"field": "t"}}}
     ]
    },
    {"data": {"values": [{}]}, "mark": {"type": "point", "opacity": 0}, "width": 66, "height": 10, "view": {"stroke": null}},
    {
     "width": 394, "height": 393,
     "encoding": {
      "x": {"field": "x", "type": "quantitative", "scale": {"type": "log", "domain": [0.5, 200], "nice": false},
       "axis": {"title": "Ta+Yb", "values": [1, 10, 100], "format": "d", "tickSize": 6, "labelPadding": 14, "labelFont": "Open Sans", "labelFontSize": 18, "titleFont": "Open Sans", "titleFontSize": 24, "titleX": 203, "titleY": 44, "titleAlign": "center", "titleBaseline": "middle"}},
      "y": {"field": "y", "type": "quantitative", "scale": {"type": "log", "domain": [1, 2000], "nice": false},
       "axis": {"title": "Rb", "values": [1, 10, 100, 1000], "format": "d", "labelAngle": -90, "labelAlign": "center", "labelBaseline": "bottom", "tickSize": 6, "labelPadding": 3, "labelFont": "Open Sans", "labelFontSize": 18, "titleFont": "Open Sans", "titleFontSize": 25, "titleX": -40, "titleY": 198, "titleAngle": -90, "titleAlign": "center", "titleBaseline": "middle"}}
     },
     "layer": [
      {"data": {"name": "ln"}, "transform": [{"filter": "datum.p=='e'"}], "mark": {"type": "line", "stroke": "#222222", "strokeWidth": 1.3, "clip": true}, "encoding": {"order": {"field": "i", "type": "quantitative"}, "detail": {"field": "id"}}},
      {"data": {"name": "sh"}, "transform": [{"filter": "datum.p=='e'&&datum.k=='po'"}], "mark": {"type": "line", "interpolate": "cardinal-closed", "stroke": "#444444", "strokeWidth": 1.3, "strokeDash": [14, 9], "clip": true}, "encoding": {"order": {"field": "i", "type": "quantitative"}}},
      {"data": {"name": "sh"}, "transform": [{"filter": "datum.p=='e'&&datum.k=='s3'"}], "mark": {"type": "line", "interpolate": "cardinal-closed", "fill": "#707070", "stroke": "#111111", "strokeWidth": 1.5, "clip": true}, "encoding": {"order": {"field": "i", "type": "quantitative"}}},
      {"data": {"name": "sh"}, "transform": [{"filter": "datum.p=='e'&&datum.k=='s2'"}], "mark": {"type": "line", "interpolate": "cardinal-closed", "fill": "#ececec", "stroke": "#111111", "strokeWidth": 1.5, "clip": true}, "encoding": {"order": {"field": "i", "type": "quantitative"}}},
      {"data": {"name": "sh"}, "transform": [{"filter": "datum.p=='e'&&datum.k=='s1'"}], "mark": {"type": "line", "interpolate": "cardinal-closed", "fill": "#b0b0b0", "stroke": "#111111", "strokeWidth": 1.5, "clip": true}, "encoding": {"order": {"field": "i", "type": "quantitative"}}},
      {"data": {"name": "sh"}, "transform": [{"filter": "datum.p=='e'&&datum.k=='ar'"}], "mark": {"type": "line", "interpolate": "cardinal-closed", "fill": "#3b3b3b", "stroke": "#111111", "strokeWidth": 1.5, "clip": true}, "encoding": {"order": {"field": "i", "type": "quantitative"}}},
      {"data": {"name": "sh"}, "transform": [{"filter": "datum.p=='e'&&datum.k=='ub'"}], "mark": {"type": "line", "interpolate": "cardinal-closed", "fill": "#000000", "stroke": "#000000", "strokeWidth": 1.5, "clip": true}, "encoding": {"order": {"field": "i", "type": "quantitative"}}},
      {"data": {"name": "pt"}, "transform": [{"filter": "datum.p=='e'&&datum.g=='ii'"}], "mark": {"type": "circle", "size": 128, "color": "#c1171d", "opacity": 1}},
      {"data": {"name": "pt"}, "transform": [{"filter": "datum.p=='e'&&datum.g=='i'"}], "mark": {"type": "point", "shape": "M-1,-1L1,1M-1,1L1,-1", "size": 196, "stroke": "#e8202a", "strokeWidth": 2, "filled": false, "opacity": 1}},
      {"data": {"name": "tx"}, "transform": [{"filter": "datum.p=='e'&&datum.s=='pl'"}], "mark": {"type": "text", "font": "Open Sans", "fontSize": 22, "color": "#1a1a1a"}, "encoding": {"text": {"field": "t"}}},
      {"data": {"name": "tx"}, "transform": [{"filter": "datum.p=='e'&&datum.s=='rg'"}], "mark": {"type": "text", "font": "Open Sans", "fontSize": 18, "color": "#1a1a1a"}, "encoding": {"text": {"field": "t"}}}
     ]
    }
   ]
  }
 ]
}
